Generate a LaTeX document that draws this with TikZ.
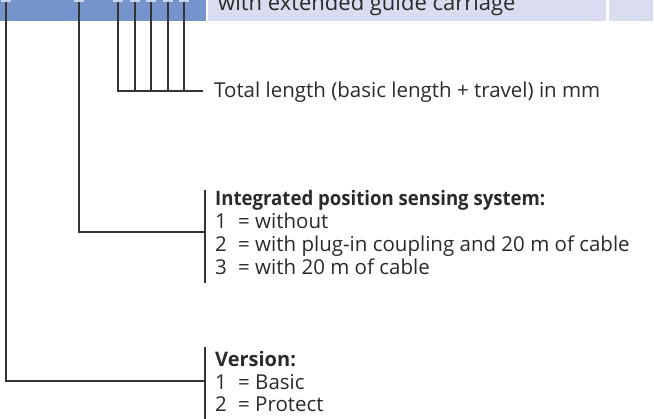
\documentclass[tikz,border=0pt]{standalone}
\usepackage{fontspec}
\setmainfont{Open Sans}
\definecolor{barDark}{HTML}{7594CC}
\definecolor{barLight}{HTML}{D9DDEF}
\definecolor{tickLight}{HTML}{C8D3EC}
\definecolor{lineGrey}{HTML}{333333}
\definecolor{textGrey}{HTML}{2A2A2A}
\begin{document}
\begin{tikzpicture}[x=1pt,y=-1pt,
  lead/.style={draw=lineGrey,line width=1.1pt},
  brack/.style={draw=lineGrey,line width=1.1pt},
  label/.style={anchor=base west,inner sep=0pt,text=textGrey,font=\fontsize{20.5}{23}\selectfont},
  heading/.style={label,font=\fontsize{20}{23}\selectfont\bfseries},
  item/.style={label}]
\useasboundingbox (0,0) rectangle (654,419);
% top bar
\fill[barDark] (0,0) rectangle (206,21);
\fill[barLight] (208,0) rectangle (606,21);
\fill[barLight] (609,0) rectangle (653,21);
\begin{scope}
\clip (0,0) rectangle (654,21);
\node[label,font=\fontsize{22}{24}\selectfont] (title) at (218,11) {with extended guide carriage};
\end{scope}
% small ticks on bar
\foreach \x/\n in {6/a,79/b,118/c,135/d,151/e,168/f,184/g}{
  \fill[tickLight] (\x-5,0) rectangle (\x+5,1.6);
  \coordinate (top\n) at (\x,1.6);
}
% total length
\node[item] (len) at (214,98) {Total length (basic length + travel) in mm};
\coordinate (lenR) at (203,91);
\draw[lead] (topc) |- (lenR);
\foreach \n in {d,e,f,g}{ \draw[lead] (top\n) -- (top\n |- lenR); }
% integrated position sensing
\coordinate (bi1) at (205,190);
\coordinate (bi2) at (205,283);
\draw[brack] (bi1) -- (bi2);
\coordinate (biM) at (205,232);
\draw[lead] (topb) |- (biM);
\node[heading] (ih) at (215,206) {\scalebox{0.93}[1]{Integrated position sensing system:}};
\node[item] (i1) at (215,229) {1\hspace{0.55em}= without};
\node[item] (i2) at (215,252) {2\hspace{0.55em}= with plug-in coupling and 20 m of cable};
\node[item] (i3) at (215,275) {3\hspace{0.55em}= with 20 m of cable};
% version
\coordinate (bv1) at (205,347);
\coordinate (bv2) at (205,419);
\draw[brack] (bv1) -- (bv2);
\coordinate (bvM) at (205,381);
\draw[lead] (topa) |- (bvM);
\node[heading] (vh) at (215,367) {Version:};
\node[item] (v1) at (215,390) {1\hspace{0.55em}= Basic};
\node[item] (v2) at (215,412) {2\hspace{0.55em}= Protect};
\end{tikzpicture}
\end{document}
